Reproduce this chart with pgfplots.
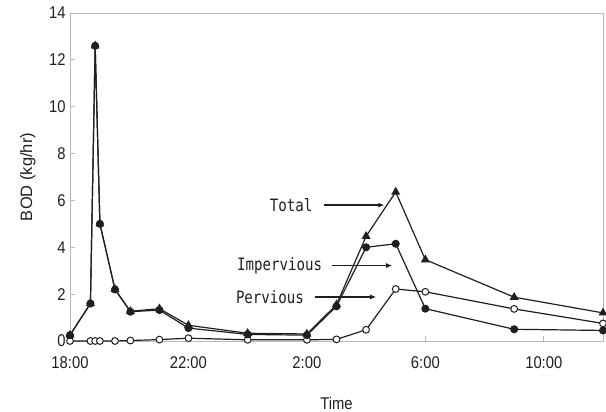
\documentclass[border=0pt]{standalone}
\usepackage{fontspec}
\setmainfont{Liberation Sans}[FakeStretch=0.87]
\newfontfamily\plainfont{Liberation Sans}
\newfontfamily\notefont{DejaVu Sans Mono}[FakeStretch=0.83]
\usepackage{pgfplots}
\usepackage{pgfplotstable}
\pgfplotsset{compat=1.18}
\usetikzlibrary{arrows.meta}
\definecolor{axisgray}{gray}{0.72}
\definecolor{ink}{gray}{0.12}

% hours after 18:00, BOD load in kg/hr
\pgfplotstableread{
h     total  imperv  perv
0.00  0.25   0.25    0.00
0.69  1.60   1.60    0.00
0.85  12.60  12.60   0.00
1.01  5.00   5.00    0.00
1.52  2.20   2.20    0.00
2.04  1.27   1.25    0.02
3.02  1.38   1.32    0.06
4.00  0.67   0.55    0.12
6.00  0.33   0.28    0.05
8.00  0.30   0.25    0.05
9.00  1.55   1.48    0.07
10.00 4.47   4.00    0.48
11.00 6.36   4.15    2.22
12.00 3.47   1.38    2.10
15.00 1.87   0.50    1.37
18.00 1.20   0.45    0.75
}\bodtable

\begin{document}
\begin{tikzpicture}
\path[use as bounding box] (-70bp,-71bp) rectangle (536bp,341bp);
\begin{axis}[
  scale only axis, width=533bp, height=328bp,
  at={(0,0)}, anchor=south west,
  xmin=0, xmax=18, ymin=0, ymax=14,
  xtick={0,4,8,12,16},
  xticklabels={18:00,22:00,2:00,6:00,10:00},
  ytick={0,2,...,14},
  axis line style={axisgray, line width=0.9bp},
  tick style={axisgray, line width=0.9bp},
  major tick length=5bp,
  tick align=inside,
  xtick pos=bottom, ytick pos=left,
  /pgf/number format/assume math mode=true,
  ticklabel style={font=\fontsize{17bp}{20bp}\selectfont, text=ink},
  yticklabel style={xshift=-1bp},
  xticklabel style={yshift=-12bp},
  xlabel={Time}, ylabel={BOD (kg/hr)},
  xlabel style={font=\fontsize{17bp}{20bp}\selectfont, text=ink,
    at={(axis description cs:0.5,-0.189)}, anchor=center},
  ylabel style={font=\plainfont\fontsize{16.5bp}{20bp}\selectfont, text=ink,
    at={(axis description cs:-0.079,0.5)}, anchor=center},
  clip=false,
  every axis plot/.append style={line width=1.2bp, ink},
]
\addplot[mark=*, mark size=3.4bp, mark options={fill=white, line width=1bp}] table[x=h, y=perv] {\bodtable};
\addplot[mark=*, mark size=3.4bp, mark options={fill=ink}] table[x=h, y=imperv] {\bodtable};
\addplot[mark=triangle*, mark size=4bp, mark options={fill=ink}] table[x=h, y=total] {\bodtable};

\begin{scope}[every node/.style={anchor=east, text=ink,
    font=\notefont\fontsize{17bp}{20bp}\selectfont}]
\node at (axis cs:8.30,5.80) {Total};
\node at (axis cs:8.63,3.22) {Impervious};
\node at (axis cs:8.02,1.88) {Pervious};
\end{scope}
\begin{scope}[-{Latex[length=6bp,width=5bp]}, line width=1.3bp, ink]
\draw (axis cs:8.58,5.80) -- (axis cs:10.62,5.80);
\draw (axis cs:8.85,3.22) -- (axis cs:10.88,3.22);
\draw (axis cs:8.28,1.88) -- (axis cs:10.34,1.88);
\end{scope}
\end{axis}
\end{tikzpicture}
\end{document}
